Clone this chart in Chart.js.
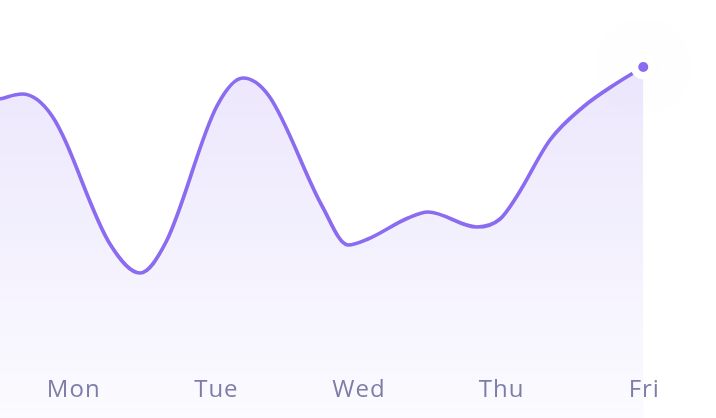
<!DOCTYPE html>
<html>
<head>
<meta charset="utf-8">
<script src="https://cdn.jsdelivr.net/npm/chart.js@4.4.1/dist/chart.umd.min.js"></script>
<style>
  html, body { margin:0; padding:0; background:#fff; }
  #wrap { width:716px; height:418px; position:relative; }
</style>
</head>
<body>
<div id="wrap"><canvas id="chart"></canvas></div>
<script>
// ====== Данные ======
const dayLabels = ['Mon', 'Tue', 'Wed', 'Thu', 'Fri'];
// x — позиция по дням (0 = Mon, 4 = Fri), y — значение
const seriesX = [
  -0.51, -0.356, -0.145, 0.261, 0.472, 0.654, 1.011, 1.194, 1.376, 1.748,
  1.93, 2.07, 2.351, 2.491, 2.834, 2.996, 3.115, 3.346, 3.578, 3.816, 4.0
];
const seriesY = [
  319, 324, 302, 174, 145, 176, 312, 340, 322, 212,
  173, 179, 200, 206, 191, 199, 222, 278, 311, 335, 351
];

const LINE = '#8b6cf0';

// подписи дней рисуем поверх заливки
const dayLabelsPlugin = {
  id: 'dayLabels',
  afterDatasetsDraw(chart){
    const {ctx, scales:{x}} = chart;
    ctx.save();
    ctx.font = '24px "Open Sans", sans-serif';
    ctx.letterSpacing = '1px';
    ctx.fillStyle = '#7d7ea7';
    ctx.textAlign = 'center';
    ctx.textBaseline = 'alphabetic';
    dayLabels.forEach((lbl, i) => ctx.fillText(lbl, x.getPixelForValue(i) + 1, 397));
    ctx.restore();
  }
};

// последняя точка с белым ореолом
const endPointPlugin = {
  id: 'endPoint',
  afterDatasetsDraw(chart){
    const meta = chart.getDatasetMeta(0);
    const p = meta.data[meta.data.length - 1];
    if (!p) return;
    const ctx = chart.ctx;
    ctx.save();
    ctx.shadowColor = 'rgba(70,60,130,0.13)';
    ctx.shadowBlur = 70;
    ctx.fillStyle = '#fff';
    ctx.beginPath(); ctx.arc(p.x, p.y, 12.5, 0, Math.PI*2); ctx.fill();
    ctx.shadowBlur = 0; ctx.shadowColor = 'transparent';
    ctx.fillStyle = LINE;
    ctx.beginPath(); ctx.arc(p.x, p.y, 5, 0, Math.PI*2); ctx.fill();
    ctx.restore();
  }
};

const ctx = document.getElementById('chart').getContext('2d');
const grad = ctx.createLinearGradient(0, 60, 0, 418);
grad.addColorStop(0, 'rgba(139,108,240,0.17)');
grad.addColorStop(1, 'rgba(139,108,240,0.03)');

new Chart(ctx, {
  type: 'line',
  data: {
    datasets: [{
      data: seriesX.map((x, i) => ({x, y: seriesY[i]})),
      borderColor: LINE,
      borderWidth: 3.7,
      backgroundColor: grad,
      fill: 'start',
      cubicInterpolationMode: 'monotone',
      pointRadius: 0,
      pointHoverRadius: 0
    }]
  },
  options: {
    responsive: true,
    maintainAspectRatio: false,
    animation: false,
    layout: { padding: 0 },
    plugins: { legend: { display: false }, tooltip: { enabled: false } },
    scales: {
      x: { type: 'linear', min: -0.51, max: 4.51, display: false },
      y: { min: 0, max: 418, display: false }
    }
  },
  plugins: [dayLabelsPlugin, endPointPlugin]
});
</script>
</body>
</html>
